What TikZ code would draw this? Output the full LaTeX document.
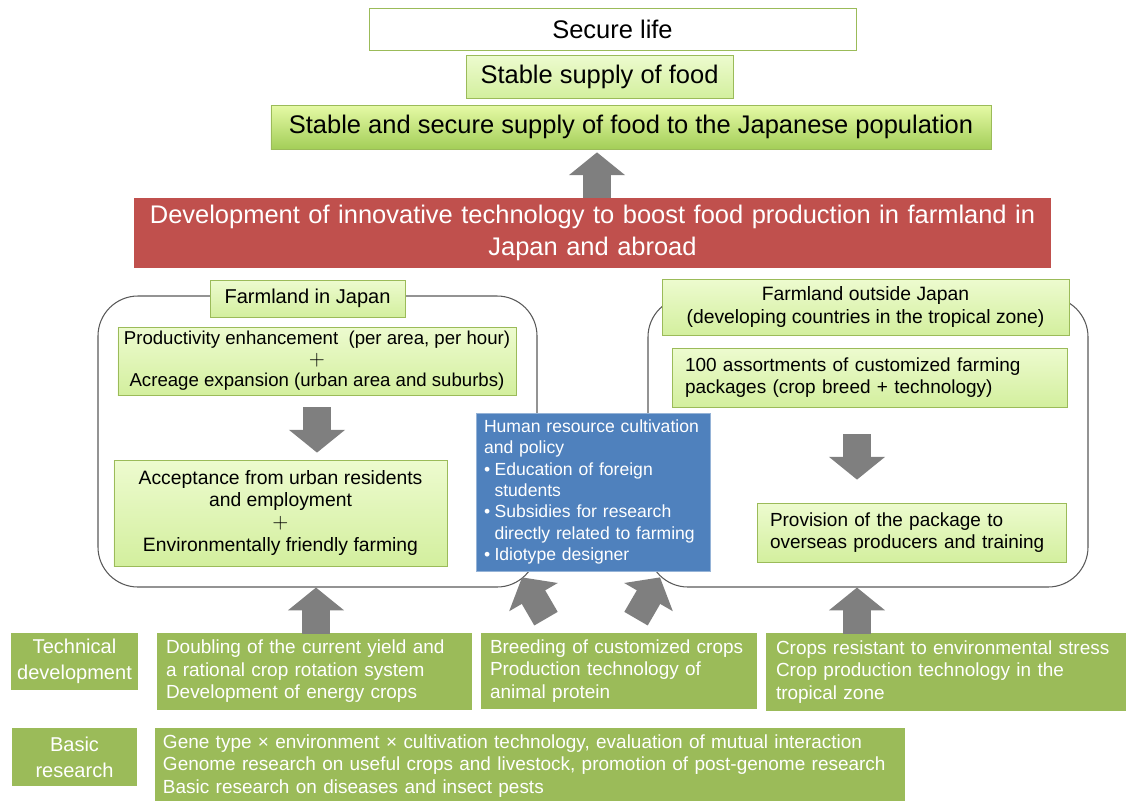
\documentclass[tikz,border=0pt]{standalone}
\usepackage{fontspec}
\setmainfont{Liberation Sans}
\usetikzlibrary{positioning,arrows.meta,calc}

\definecolor{leaf}{HTML}{9BBB59}
\definecolor{leafpale}{HTML}{EDFBCF}
\definecolor{leaflite}{HTML}{D3EF9E}
\definecolor{leaftop}{HTML}{E6FAA6}
\definecolor{leafmid}{HTML}{A3CE58}
\definecolor{brick}{HTML}{C0504D}
\definecolor{steel}{HTML}{4F81BD}
\definecolor{ash}{HTML}{7F7F7F}

\newcommand{\fsz}[2]{\fontsize{#1}{#2}\selectfont}
\newcommand{\blt}{\makebox[0.6em][l]{\textbullet}}
\newcommand{\bltgap}{\hspace*{0.6em}}
\newcommand{\bigplus}{{\fsz{13}{11}$+$}}

\tikzset{
  % goal boxes at the top
  goal/.style     = {rectangle, draw=leaf, fill=white, align=center,
                     inner sep=0pt, font=\fsz{14.5}{17}},
  % pale green box (titles and steps inside the farmland frames)
  pale/.style     = {rectangle, draw=leaf, top color=leafpale, bottom color=leaflite,
                     align=center, inner sep=0pt, font=\fsz{10.8}{12.5}},
  % main red banner
  banner/.style   = {rectangle, fill=brick, text=white, align=center,
                     inner xsep=0.7mm, font=\fsz{14.5}{18}},
  % farmland frame
  frame/.style    = {rectangle, rounded corners=8mm, draw=black!65, line width=0.6pt},
  % blue policy box
  policy/.style   = {rectangle, draw=steel!60!white, fill=steel, text=white,
                     align=left, inner xsep=1.6mm, font=\fsz{10}{12.2}},
  % olive row labels and contents
  tag/.style      = {rectangle, fill=leaf, text=white, align=center, font=\fsz{11.4}{14.8}},
  item/.style     = {rectangle, fill=leaf, text=white, align=left, font=\fsz{10.8}{12.8}},
  % fat grey arrows
  fat/.style      = {draw=ash, line width=15.4pt, -{Triangle[length=13pt, width=31.3pt]}},
}

\begin{document}
\begin{tikzpicture}[x=0.2mm, y=-0.2mm]
  \useasboundingbox (0,0) rectangle (1126,800);

  % --- goals ---
  \node[goal, minimum width=97.4mm, minimum height=8.4mm] (secure) at (612.5,29) {Secure life};
  \node[goal, top color=leafpale, bottom color=leaflite,
        minimum width=53.4mm, minimum height=8.6mm] (stable) at (599.5,76.5) {Stable supply of food};
  \node[goal, top color=leaftop, bottom color=leafmid,
        minimum width=144mm, minimum height=8.8mm] (stablejp) at (631,127)
       {Stable and secure supply of food to the Japanese population};

  % --- banner ---
  \node[banner, text width=182mm, minimum height=14mm] (devel) at (592.5,233)
       {Development of innovative technology to boost food production in farmland in\\
        Japan and abroad};

  % --- farmland frames (drawn first, titles sit on the border) ---
  \node[frame, minimum width=87.8mm, minimum height=58.2mm] (jpregion) at (317.5,441.5) {};
  \node[frame, minimum width=88mm, minimum height=58mm] (outregion) at (868,442) {};

  % Japan side
  \node[pale, font=\fsz{11.4}{13}, minimum width=39mm, minimum height=7.4mm] (jptitle)
       at (307.5,298.5) {Farmland in Japan};
  \node[pale, font=\fsz{10.6}{12}, minimum width=79.6mm, minimum height=13.6mm] (prod)
       at (317,361)
       {Productivity enhancement\ \ (per area, per hour)\\\bigplus\\
        Acreage expansion\ (urban area and suburbs)};
  \node[pale, font=\fsz{11}{12.5}, minimum width=66.6mm, minimum height=21.2mm] (accept)
       at (280.5,513)
       {Acceptance from urban residents\\and employment\\\bigplus\\[1pt]
        Environmentally friendly farming};

  % outside side
  \node[pale, font=\fsz{11}{13}, minimum width=81.4mm, minimum height=11.2mm] (outtitle)
       at (865.5,307)
       {Farmland outside Japan\\(developing countries in the tropical zone)};
  \node[pale, align=left, text width=73.8mm, inner xsep=2.6mm, minimum height=11.8mm] (pack)
       at (869.5,377.5)
       {100 assortments of customized farming\\packages (crop breed + technology)};
  \node[pale, align=left, text width=56.6mm, inner xsep=2.6mm, minimum height=11.8mm] (provide)
       at (911.5,532.5)
       {Provision of the package to\\overseas producers and training};

  % --- policy box in the middle ---
  \node[policy, text width=43.6mm, minimum height=31.6mm] (human) at (593,492)
       {Human resource cultivation\\and policy\\
        \blt Education of foreign\\\bltgap students\\
        \blt Subsidies for research\\\bltgap directly related to farming\\
        \blt Idiotype designer};

  % --- technical development row ---
  \node[tag, minimum width=25mm, minimum height=11mm] (techlbl) at (74.5,661.5)
       {Technical\\development};
  \node[item, text width=59.4mm, inner xsep=1.8mm, minimum height=15.4mm] (techjp)
       at (314.5,671.5)
       {Doubling of the current\ yield and\\a rational crop rotation system\\
        Development of energy crops};
  \node[item, text width=51.6mm, inner xsep=1.8mm, minimum height=15.2mm] (techmid)
       at (619,671)
       {Breeding of customized\ crops\\Production technology of\\animal protein};
  \node[item, text width=68mm, inner xsep=2mm, minimum height=15.6mm] (techout)
       at (946,672)
       {Crops resistant to environmental stress\\Crop production technology in the\\
        tropical zone};

  % --- basic research row ---
  \node[tag, minimum width=25mm, minimum height=11.6mm] (basiclbl) at (74.5,757)
       {Basic\\research};
  \node[item, text width=146.8mm, inner xsep=1.6mm, minimum height=15.2mm] (basic)
       at (530,766)
       {Gene type × environment × cultivation technology, evaluation of mutual interaction\\
        Genome research on useful crops and livestock, promotion of post-genome research\\
        Basic research on diseases and insect pests};

  % --- fat arrows ---
  \coordinate (upmain) at ($(devel.north)+(4.5,0)$);
  \draw[fat, shorten >=1.7pt] (upmain) -- (upmain |- stablejp.south);

  \draw[fat, shorten <=6.8pt, shorten >=4pt] (prod.south) -- (prod.south |- accept.north);

  \coordinate (downout) at ($(pack.south)+(-12.5,0)$);
  \draw[fat, shorten <=15.4pt, shorten >=13.1pt] (downout) -- (downout |- provide.north);

  \coordinate (upjp) at ($(techjp.north)+(1.5,1)$);
  \draw[fat] (upjp) -- (upjp |- jpregion.south);

  \coordinate (upout) at ($(techout.north)+(-89,1)$);
  \draw[fat] (upout) -- (upout |- outregion.south);

  % two slanted arrows into the policy box
  \draw[fat] ($(techmid.north)+(-73,-14)$) -- ($(human.south)+(-71,6)$);
  \draw[fat] ($(techmid.north)+(17,-14)$) -- ($(human.south)+(67,6)$);

\end{tikzpicture}
\end{document}
